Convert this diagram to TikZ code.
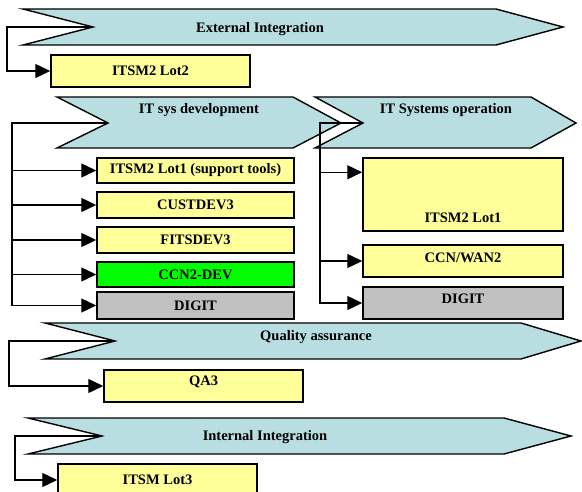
\documentclass[tikz,border=0pt]{standalone}
\usepackage{fontspec}
\setmainfont{Liberation Serif}
\usetikzlibrary{arrows.meta}
\definecolor{chevfill}{RGB}{184,222,225}
\definecolor{boxyellow}{RGB}{255,255,153}
\definecolor{boxgreen}{RGB}{0,255,0}
\definecolor{boxgrey}{RGB}{192,192,192}

\begin{document}
\begin{tikzpicture}[x=1pt,y=-1pt,
  chev/.style={draw=black, fill=chevfill, line width=1.4pt, line join=miter},
  ttl/.style={font=\fontsize{14.5}{16}\selectfont\bfseries, inner sep=0pt},
  basebox/.style={draw=black, line width=1.5pt, inner sep=0pt,
    font=\fontsize{14.5}{16}\selectfont\bfseries},
  ybox/.style={basebox, fill=boxyellow},
  gbox/.style={basebox, fill=boxgreen},
  greybox/.style={basebox, fill=boxgrey},
  conn/.style={line width=1.4pt, -{Triangle[length=15pt,width=14pt]}},
]
\useasboundingbox (0,0) rectangle (582,492);

% ---- phase chevrons ----
\draw[chev] (23,9) -- (496,9) -- (563,27) -- (496,45) -- (23,45) -- (93,27) -- cycle;
\coordinate (extN) at (93,27);
\node[ttl] (extT) at (260,29) {External Integration};

\draw[chev] (57,97) -- (293,97) -- (341,123) -- (293,148) -- (57,148) -- (108,123) -- cycle;
\coordinate (devN) at (108,123);
\node[ttl] (devT) at (199,110) {IT sys development};

\draw[chev] (315,97) -- (531,97) -- (576,123) -- (531,148) -- (315,148) -- (363,123) -- cycle;
\coordinate (opsN) at (363,123);
\node[ttl] (opsT) at (446,110) {IT Systems operation};

\draw[chev] (45,323) -- (521,323) -- (581,341) -- (521,359) -- (45,359) -- (115,341) -- cycle;
\coordinate (qaN) at (115,341);
\node[ttl] (qaT) at (316,337) {Quality assurance};

\draw[chev] (28,418) -- (504,418) -- (571,436) -- (504,454) -- (28,454) -- (102,436) -- cycle;
\coordinate (intN) at (102,436);
\node[ttl] (intT) at (265,437) {Internal Integration};

% ---- contract boxes ----
\node[ybox, minimum width=199, minimum height=32] (lot2) at (150.5,71) {ITSM2 Lot2};

\node[ybox, minimum width=197, minimum height=25] (d1) at (195.5,170.5) {ITSM2 Lot1 (support tools)};
\node[ybox, minimum width=197, minimum height=26] (d2) at (195.5,205) {CUSTDEV3};
\node[ybox, minimum width=197, minimum height=26] (d3) at (195.5,240) {FITSDEV3};
\node[gbox, minimum width=197, minimum height=25] (d4) at (195.5,274.5) {CCN2-DEV};
\node[greybox, minimum width=197, minimum height=27] (d5) at (195.5,305.5) {DIGIT};

\node[ybox, minimum width=200, minimum height=73] (o1) at (463,194.5) {};
\node[ttl] (o1T) at (463,218) {ITSM2 Lot1};
\node[ybox, minimum width=200, minimum height=32] (o2) at (463,261) {};
\node[ttl] (o2T) at (463,258) {CCN/WAN2};
\node[greybox, minimum width=200, minimum height=32] (o3) at (463,303) {};
\node[ttl] (o3T) at (463,299) {DIGIT};

\node[ybox, minimum width=199, minimum height=32] (qa3) at (203.5,386) {};
\node[ttl] (qa3T) at (203.5,382) {QA3};

\node[ybox, minimum width=199, minimum height=32] (lot3) at (157.5,480) {ITSM Lot3};

% ---- connectors ----
\draw[conn] (extN) -- (7,27) |- (lot2.west);

\foreach \b in {d1,d2,d3,d4,d5}
  \draw[conn] (devN) -- (12,123) |- (\b.west);

\draw[conn] (opsN) -- (320,123) |- ([yshift=-15pt]o1.north west);
\draw[conn] (opsN) -- (320,123) |- (o2.west);
\draw[conn] (opsN) -- (320,123) |- (o3.west);

\draw[conn] (qaN) -- (9,341) |- (qa3.west);
\draw[conn] (intN) -- (15,436) |- (lot3.west);
\end{tikzpicture}
\end{document}
